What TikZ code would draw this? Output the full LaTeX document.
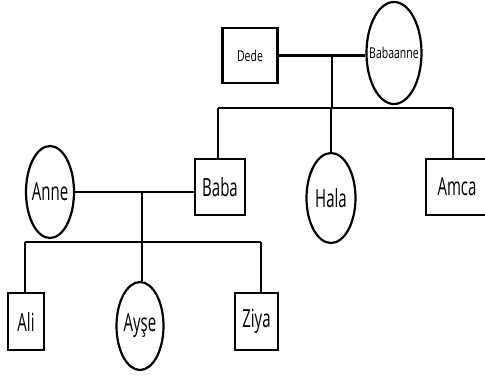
\documentclass[tikz,border=0pt]{standalone}
\usepackage{fontspec}
\usepackage{tikz}
\usetikzlibrary{shapes.geometric}
\newfontfamily\bigfam[FakeStretch=0.6]{Open Sans}
\newfontfamily\smallfam[FakeStretch=0.7]{Open Sans}
\newcommand{\bigname}[1]{\makebox[0pt]{\fontsize{25}{25}\selectfont\bigfam #1}}
\newcommand{\smallname}[1]{\makebox[0pt]{\fontsize{15}{15}\selectfont\smallfam #1}}

\begin{document}
\begin{tikzpicture}[x=1pt,y=-1pt,
  man/.style={draw,rectangle,line width=2.4pt,inner sep=0pt},
  woman/.style={draw,ellipse,line width=2.2pt,inner sep=0pt},
  tie/.style={line width=2.8pt},
  kin/.style={line width=2pt}]
\useasboundingbox (0,0) rectangle (485,376);

\node[man,minimum width=55pt,minimum height=55pt] (dede) at (250,55.5) {\smallname{Dede}};
\node[woman,minimum width=55pt,minimum height=102pt] (babaanne) at (394,53) {\smallname{Babaanne}};
\node[man,minimum width=50pt,minimum height=56pt] (baba) at (220,187) {\bigname{Baba}};
\node[woman,minimum width=49pt,minimum height=90pt] (hala) at (331,198) {\bigname{Hala}};
\node[man,minimum width=62pt,minimum height=56pt] (amca) at (457,187) {\bigname{Amca}};
\node[woman,minimum width=48pt,minimum height=92pt] (anne) at (50,192) {\bigname{Anne}};
\node[man,minimum width=36pt,minimum height=57pt] (ali) at (26,321.5) {\bigname{Ali}};
\node[woman,minimum width=47pt,minimum height=88pt] (ayse) at (140,326) {\bigname{Ayşe}};
\node[man,minimum width=43pt,minimum height=57pt] (ziya) at (256.5,321.5) {\bigname{Ziya}};

\coordinate (tie1) at (332,56);
\coordinate (bar1) at (332,108);
\coordinate (bar1a) at (218,108);
\coordinate (bar1b) at (331,108);
\coordinate (bar1c) at (453,108);
\draw[tie] (dede.east) -- (dede.east -| babaanne.west);
\draw[kin] (tie1) -- (bar1);
\draw[kin] (bar1a) -- (bar1c);
\draw[kin] (bar1a) -- (bar1a |- baba.north);
\draw[kin] (bar1b) -- (hala.north);
\draw[kin] (bar1c) -- (bar1c |- amca.north);

\coordinate (tie2) at (142,192);
\coordinate (bar2) at (142,242);
\coordinate (bar2a) at (25,242);
\coordinate (bar2c) at (261,242);
\draw[tie] (anne.east) -- (anne.east -| baba.west);
\draw[kin] (tie2) -- (bar2);
\draw[kin] (bar2a) -- (bar2c);
\draw[kin] (bar2a) -- (bar2a |- ali.north);
\draw[kin] (bar2) -- (bar2 |- ayse.north);
\draw[kin] (bar2c) -- (bar2c |- ziya.north);
\end{tikzpicture}
\end{document}
